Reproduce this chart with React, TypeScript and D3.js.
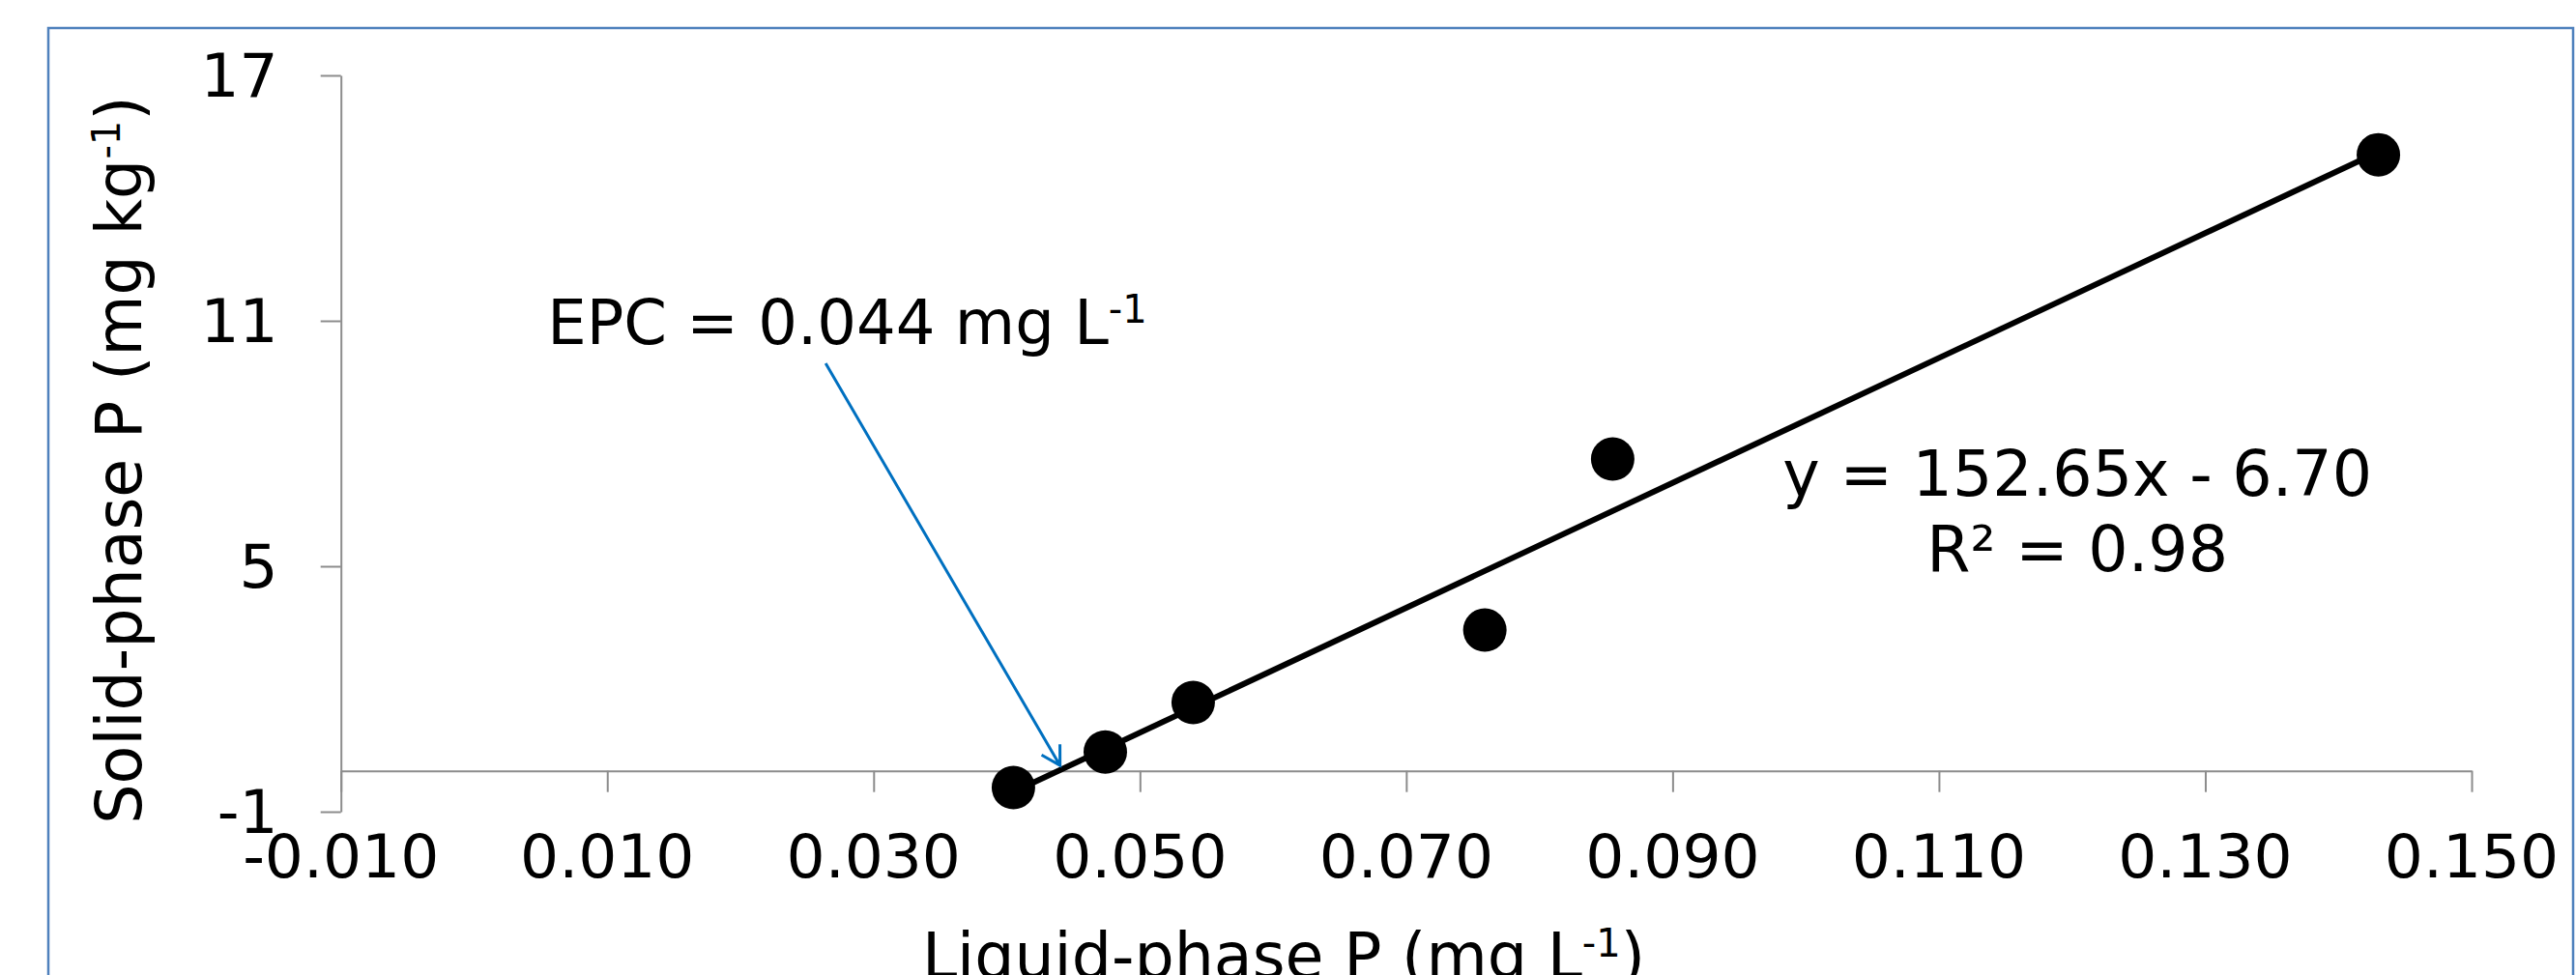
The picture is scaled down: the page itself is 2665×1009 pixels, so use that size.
import React, { useEffect, useRef } from "react";
import * as d3 from "d3";

// measured sorption points (liquid-phase P in mg/L, solid-phase P in mg/kg)
const liquidP = [0.0405, 0.0474, 0.054, 0.0759, 0.0855, 0.143];
const solidP = [-0.41, 0.46, 1.67, 3.44, 7.62, 15.06];

const xTickValues = [-0.01, 0.01, 0.03, 0.05, 0.07, 0.09, 0.11, 0.13, 0.15];
const xTickLabels = ["-0.010", "0.010", "0.030", "0.050", "0.070", "0.090", "0.110", "0.130", "0.150"];
const yTickValues = [-1, 5, 11, 17];
const yTickLabels = ["-1", "5", "11", "17"];

// linear fit shown on the chart
const slope = 152.65;
const intercept = -6.7;
const equationLabel = "y = 152.65x - 6.70";
const r2Label = "R² = 0.98";

// EPC annotation (data units)
const epc = 0.044;
const arrowTail = [0.0264, 9.96];
const arrowHead = [epc, 0.13];
const epcLabelAt = [0.0055, 10.43];
const equationAt = [0.1204, 6.72];

const FONT = "'DejaVu Sans', Verdana, sans-serif";

export default function App() {
  const ref = useRef<SVGSVGElement>(null);
  const width = 2665;
  const height = 1009;
  const margin = { left: 352.7, right: 108, top: 78, bottom: 169 };

  useEffect(() => {
    const svg = d3.select(ref.current);
    svg.selectAll("*").remove();

    const xScale = d3
      .scaleLinear()
      .domain([-0.01, 0.15])
      .range([margin.left, width - margin.right]);

    const yScale = d3
      .scaleLinear()
      .domain([-1, 17])
      .range([height - margin.bottom, margin.top]);

    // chart area border
    svg
      .append("rect")
      .attr("x", 50)
      .attr("y", 29)
      .attr("width", 2612)
      .attr("height", 1200)
      .attr("fill", "none")
      .attr("stroke", "#4F81BD")
      .attr("stroke-width", 2.5);

    const axisColor = "#8c8c8c";

    // x axis crosses at y = 0, ticks pointing down
    const xAxis = d3
      .axisBottom(xScale)
      .tickValues(xTickValues)
      .tickSize(22)
      .tickSizeOuter(0)
      .tickFormat(() => "");

    const gx = svg
      .append("g")
      .attr("transform", `translate(0, ${yScale(0)})`)
      .call(xAxis);
    gx.selectAll("path,line").attr("stroke", axisColor).attr("stroke-width", 2);

    // x tick labels sit at the low end of the plot
    svg
      .append("g")
      .selectAll("text")
      .data(xTickValues)
      .enter()
      .append("text")
      .attr("x", (d) => xScale(d))
      .attr("y", yScale(-1) + 68)
      .attr("text-anchor", "middle")
      .attr("font-family", FONT)
      .attr("font-size", 63)
      .attr("fill", "#000")
      .text((d, i) => xTickLabels[i]);

    const yAxis = d3
      .axisLeft(yScale)
      .tickValues(yTickValues)
      .tickSize(21)
      .tickSizeOuter(0)
      .tickPadding(44)
      .tickFormat((d, i) => yTickLabels[i]);

    const gy = svg
      .append("g")
      .attr("transform", `translate(${xScale(-0.01)}, 0)`)
      .call(yAxis);
    gy.selectAll("path,line").attr("stroke", axisColor).attr("stroke-width", 2);
    gy.selectAll("text")
      .attr("font-family", FONT)
      .attr("font-size", 63)
      .attr("fill", "#000")
      .attr("dy", "0.34em");

    // trendline across the data range
    const xs = d3.extent(liquidP) as [number, number];
    svg
      .append("line")
      .attr("x1", xScale(xs[0]))
      .attr("y1", yScale(slope * xs[0] + intercept))
      .attr("x2", xScale(xs[1]))
      .attr("y2", yScale(slope * xs[1] + intercept))
      .attr("stroke", "#000")
      .attr("stroke-width", 6);

    svg
      .append("g")
      .selectAll("circle")
      .data(liquidP)
      .enter()
      .append("circle")
      .attr("cx", (d) => xScale(d))
      .attr("cy", (d, i) => yScale(solidP[i]))
      .attr("r", 22.5)
      .attr("fill", "#000");

    // EPC arrow
    const ax1 = xScale(arrowTail[0]);
    const ay1 = yScale(arrowTail[1]);
    const ax2 = xScale(arrowHead[0]);
    const ay2 = yScale(arrowHead[1]);
    const ang = Math.atan2(ay2 - ay1, ax2 - ax1);
    const arm = 22;
    const spread = Math.PI / 6;
    const arrowPath = d3.path();
    arrowPath.moveTo(ax1, ay1);
    arrowPath.lineTo(ax2, ay2);
    arrowPath.moveTo(ax2 - arm * Math.cos(ang - spread), ay2 - arm * Math.sin(ang - spread));
    arrowPath.lineTo(ax2, ay2);
    arrowPath.lineTo(ax2 - arm * Math.cos(ang + spread), ay2 - arm * Math.sin(ang + spread));
    svg
      .append("path")
      .attr("d", arrowPath.toString())
      .attr("fill", "none")
      .attr("stroke", "#0070C0")
      .attr("stroke-width", 3);

    const epcText = svg
      .append("text")
      .attr("x", xScale(epcLabelAt[0]))
      .attr("y", yScale(epcLabelAt[1]))
      .attr("font-family", FONT)
      .attr("font-size", 64)
      .attr("fill", "#000");
    epcText.append("tspan").text(`EPC = ${epc.toFixed(3)} mg L`);
    epcText.append("tspan").attr("dy", -22).attr("font-size", 40).text("-1");

    // regression label
    const eq = svg
      .append("text")
      .attr("x", xScale(equationAt[0]))
      .attr("y", yScale(equationAt[1]))
      .attr("text-anchor", "middle")
      .attr("font-family", FONT)
      .attr("font-size", 65)
      .attr("fill", "#000");
    eq.append("tspan").text(equationLabel);
    eq.append("tspan")
      .attr("x", xScale(equationAt[0]))
      .attr("dy", 78)
      .text(r2Label);

    // axis titles
    const yTitle = svg
      .append("text")
      .attr("transform", `translate(146, 476) rotate(-90)`)
      .attr("text-anchor", "middle")
      .attr("font-family", FONT)
      .attr("font-size", 65)
      .attr("fill", "#000");
    yTitle.append("tspan").text("Solid-phase P (mg kg");
    yTitle.append("tspan").attr("dy", -22).attr("font-size", 40).text("-1");
    yTitle.append("tspan").attr("dy", 22).text(")");

    const xTitle = svg
      .append("text")
      .attr("x", 1328)
      .attr("y", 1012)
      .attr("text-anchor", "middle")
      .attr("font-family", FONT)
      .attr("font-size", 65)
      .attr("fill", "#000");
    xTitle.append("tspan").text("Liquid-phase P (mg L");
    xTitle.append("tspan").attr("dy", -22).attr("font-size", 40).text("-1");
    xTitle.append("tspan").attr("dy", 22).text(")");
  }, []);

  return (
    <svg
      ref={ref}
      width={width}
      height={height}
      style={{ position: "absolute", left: 0, top: 0, background: "#fff" }}
    />
  );
}
